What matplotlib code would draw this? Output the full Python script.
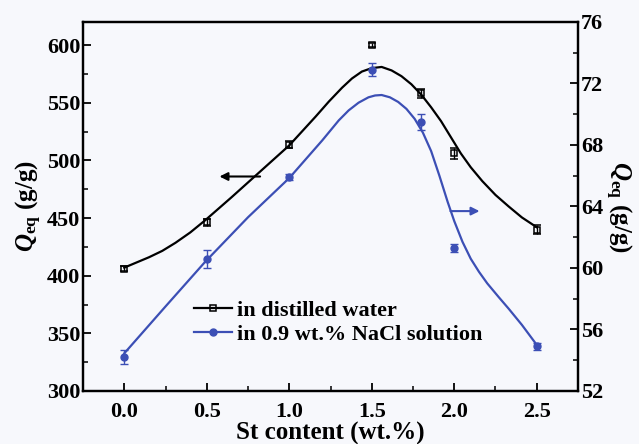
import matplotlib
matplotlib.use("Agg")
import matplotlib.pyplot as plt
from matplotlib.font_manager import FontProperties
from matplotlib.lines import Line2D
from matplotlib.ticker import MultipleLocator

plt.rcParams["font.family"] = ["Liberation Serif", "DejaVu Serif"]
plt.rcParams["font.weight"] = "bold"
plt.rcParams["axes.labelweight"] = "bold"
plt.rcParams["mathtext.fontset"] = "custom"
plt.rcParams["mathtext.rm"] = "Liberation Serif:bold"
plt.rcParams["mathtext.it"] = "Liberation Serif:italic:bold"
plt.rcParams["mathtext.bf"] = "Liberation Serif:bold"

# measured points
st_content = [0.0, 0.5, 1.0, 1.5, 1.8, 2.0, 2.5]
q_water = [406, 446.5, 513.5, 600, 558, 506, 440]
q_water_err = [2, 3, 3, 2, 4, 5, 4]
q_nacl = [54.2, 60.6, 65.9, 72.9, 69.5, 61.3, 54.9]
q_nacl_err = [0.45, 0.6, 0.2, 0.4, 0.5, 0.25, 0.25]

# fitted curves
fit_water_x = [0.0, 0.15, 0.23, 0.31, 0.4, 0.49, 0.65, 0.79, 1.0, 1.16, 1.24, 1.32,
               1.38, 1.44, 1.5, 1.56, 1.62, 1.68, 1.74, 1.8, 1.86, 1.92, 1.98, 2.04,
               2.1, 2.17, 2.25, 2.33, 2.41, 2.5]
fit_water_y = [407, 416, 421.5, 428.5, 437.5, 448, 468, 486, 513, 538, 551, 563,
               571, 577, 580, 581, 578, 573, 566, 557, 546, 534, 520, 506,
               494, 482, 470, 460, 450.5, 442]
fit_nacl_x = [0.0, 0.25, 0.49, 0.75, 1.0, 1.2, 1.3, 1.36, 1.42, 1.48, 1.52, 1.56,
              1.61, 1.66, 1.71, 1.76, 1.81, 1.86, 1.91, 1.96, 2.0, 2.05, 2.1, 2.15,
              2.2, 2.27, 2.33, 2.41, 2.5]
fit_nacl_y = [54.45, 57.5, 60.4, 63.3, 65.85, 68.3, 69.6, 70.25, 70.75, 71.1, 71.22,
              71.25, 71.1, 70.8, 70.35, 69.7, 68.8, 67.6, 66.0, 64.3, 63.05, 61.7,
              60.6, 59.75, 59.0, 58.1, 57.35, 56.3, 55.0]

blue = "#3c4fb5"
bg = "#f7f8fc"

fig = plt.figure(figsize=(6.39, 4.44), dpi=100, facecolor=bg)
ax = fig.add_axes([0.130, 0.1194, 0.7745, 0.8311], facecolor=bg)
ax2 = ax.twinx()

ax.plot(fit_water_x, fit_water_y, color="k", lw=1.6, solid_joinstyle="round")
ax.errorbar(st_content, q_water, yerr=q_water_err, fmt="s", ms=5, mfc="none",
            mec="k", mew=1.1, ecolor="k", elinewidth=1, capsize=3, color="k")

ax2.plot(fit_nacl_x, fit_nacl_y, color=blue, lw=1.6, solid_joinstyle="round")
ax2.errorbar(st_content, q_nacl, yerr=q_nacl_err, fmt="o", ms=5, mfc=blue,
             mec=blue, ecolor=blue, elinewidth=1, capsize=3, color=blue)

ax.set_xlim(-0.25, 2.75)
ax.set_ylim(300, 620)
ax2.set_ylim(52, 76)

ax.xaxis.set_major_locator(MultipleLocator(0.5))
ax.xaxis.set_minor_locator(MultipleLocator(0.25))
ax.yaxis.set_major_locator(MultipleLocator(50))
ax.yaxis.set_minor_locator(MultipleLocator(25))
ax2.yaxis.set_major_locator(MultipleLocator(4))
ax2.yaxis.set_minor_locator(MultipleLocator(2))
ax.xaxis.set_major_formatter(plt.FuncFormatter(lambda v, p: f"{v:.1f}"))

ax.tick_params(axis="x", which="both", direction="in", top=False, labelsize=16, pad=8)
ax.tick_params(axis="y", which="both", direction="in", right=False, labelsize=16, pad=2)
ax2.tick_params(axis="y", which="both", direction="in", labelsize=16, pad=2)
for a in (ax, ax2):
    a.tick_params(which="major", length=6, width=1.3)
    a.tick_params(which="minor", length=3.5, width=1.1)
    for s in a.spines.values():
        s.set_linewidth(1.6)

ax.set_xlabel("St content (wt.%)", fontsize=18, labelpad=0)
ax.set_ylabel(r"$Q_{\rm eq}$ (g/g)", fontsize=18, labelpad=2)
ax2.set_ylabel(r"$Q_{\rm eq}$ (g/g)", fontsize=18, rotation=-90, labelpad=22)

ax.annotate("", xy=(0.56, 486), xytext=(0.84, 486),
            arrowprops=dict(arrowstyle="-|>", color="k", lw=1.5, mutation_scale=12))
ax2.annotate("", xy=(2.17, 63.7), xytext=(1.96, 63.7),
             arrowprops=dict(arrowstyle="-|>", color=blue, lw=1.5, mutation_scale=12))

handles = [
    Line2D([], [], color="k", lw=1.6, marker="s", ms=5, mfc="none", mew=1.1),
    Line2D([], [], color=blue, lw=1.6, marker="o", ms=5, mfc=blue),
]
leg_font = FontProperties(family="Liberation Serif", weight="bold", size=16)
ax2.legend(handles, ["in distilled water", "in 0.9 wt.% NaCl solution"],
           loc="upper left", bbox_to_anchor=(0.225, 0.245), frameon=False,
           prop=leg_font, handlelength=1.7,
           handletextpad=0.2, labelspacing=0.15, borderpad=0, borderaxespad=0)

fig.savefig("out.png", dpi=100, facecolor=bg)
